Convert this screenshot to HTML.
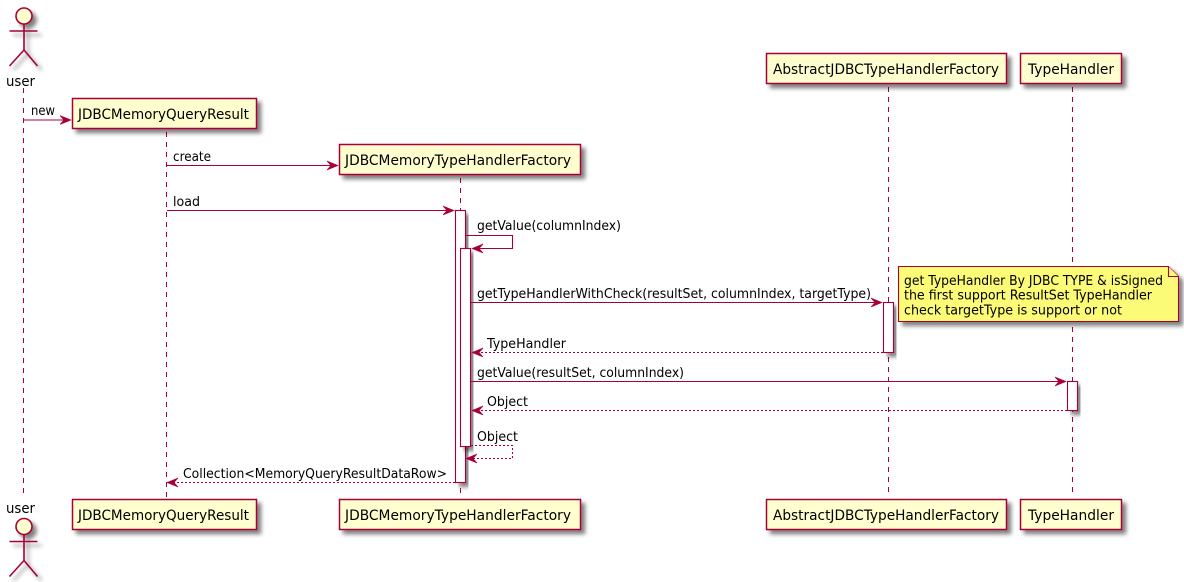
<!DOCTYPE html>
<html><head><meta charset="utf-8">
<style>
html,body{margin:0;padding:0;background:#fff}
svg{display:block}
text{font-family:"DejaVu Sans","Liberation Sans",sans-serif;fill:#000}
.m{font-size:13px}
.b{font-size:14.5px}
.n{font-size:13px}
.l{stroke:#A80036;stroke-width:1.1;fill:none}
.d{stroke-dasharray:2,2}
.ll{stroke:#A80036;stroke-width:1;stroke-dasharray:5,5;fill:none}
.box{fill:#FEFECE;stroke:#A80036;stroke-width:1.5}
.act{fill:#fff;stroke:#A80036;stroke-width:1.1}
.ah{fill:#A80036;stroke:#A80036;stroke-width:.6}
</style></head>
<body>
<svg width="1184" height="582" viewBox="0 0 1184 582" xmlns="http://www.w3.org/2000/svg">
<defs>
<filter id="s" x="-20%" y="-20%" width="150%" height="160%">
<feGaussianBlur in="SourceAlpha" stdDeviation="2" result="b"/>
<feOffset in="b" dx="4" dy="4" result="o"/>
<feComponentTransfer in="o" result="o2"><feFuncA type="linear" slope="0.5"/></feComponentTransfer>
<feMerge><feMergeNode in="o2"/><feMergeNode in="SourceGraphic"/></feMerge>
</filter>
<g id="actor">
<circle cx="24" cy="16" r="8" fill="#FEFECE" stroke="#A80036" stroke-width="1.6"/>
<path d="M24 24V50M9.5 31H37.500M24 50L9.500 66M24 50L37.500 66" fill="none" stroke="#A80036" stroke-width="1.6"/>
</g>
</defs>

<!-- lifelines -->
<path class="ll" d="M23.500 88V495"/>
<path class="ll" d="M166.500 132V497"/>
<path class="ll" d="M460.500 178V497"/>
<path class="ll" d="M888.500 87V497"/>
<path class="ll" d="M1072.500 87V497"/>

<!-- actors -->
<use href="#actor" filter="url(#s)"/>
<text class="b" x="6" y="86" textLength="29" lengthAdjust="spacingAndGlyphs">user</text>
<text class="b" x="6" y="513" textLength="29" lengthAdjust="spacingAndGlyphs">user</text>
<use href="#actor" y="510.500" filter="url(#s)"/>

<!-- top boxes -->
<g filter="url(#s)"><rect class="box" x="72.500" y="98.500" width="184" height="30"/></g>
<text class="b" x="78" y="119" textLength="171" lengthAdjust="spacingAndGlyphs">JDBCMemoryQueryResult</text>
<g filter="url(#s)"><rect class="box" x="339.500" y="144.500" width="241" height="30"/></g>
<text class="b" x="345" y="165" textLength="226" lengthAdjust="spacingAndGlyphs">JDBCMemoryTypeHandlerFactory</text>
<g filter="url(#s)"><rect class="box" x="766.500" y="53.500" width="240" height="30"/></g>
<text class="b" x="773" y="74" textLength="226" lengthAdjust="spacingAndGlyphs">AbstractJDBCTypeHandlerFactory</text>
<g filter="url(#s)"><rect class="box" x="1020.500" y="53.500" width="101" height="30"/></g>
<text class="b" x="1028" y="74" textLength="86" lengthAdjust="spacingAndGlyphs">TypeHandler</text>

<!-- bottom boxes -->
<g filter="url(#s)"><rect class="box" x="72.500" y="499.500" width="184" height="30"/></g>
<text class="b" x="78" y="520" textLength="171" lengthAdjust="spacingAndGlyphs">JDBCMemoryQueryResult</text>
<g filter="url(#s)"><rect class="box" x="339.500" y="499.500" width="241" height="30"/></g>
<text class="b" x="345" y="520" textLength="226" lengthAdjust="spacingAndGlyphs">JDBCMemoryTypeHandlerFactory</text>
<g filter="url(#s)"><rect class="box" x="766.500" y="499.500" width="240" height="30"/></g>
<text class="b" x="773" y="520" textLength="226" lengthAdjust="spacingAndGlyphs">AbstractJDBCTypeHandlerFactory</text>
<g filter="url(#s)"><rect class="box" x="1020.500" y="499.500" width="101" height="30"/></g>
<text class="b" x="1028" y="520" textLength="86" lengthAdjust="spacingAndGlyphs">TypeHandler</text>

<!-- activations -->
<g filter="url(#s)"><rect class="act" x="455.500" y="210.500" width="10" height="272"/></g>
<g filter="url(#s)"><rect class="act" x="460.500" y="248.500" width="10" height="198"/></g>
<g filter="url(#s)"><rect class="act" x="883.500" y="302.500" width="10" height="50"/></g>
<g filter="url(#s)"><rect class="act" x="1067.500" y="381.500" width="10" height="29"/></g>

<!-- note -->
<g filter="url(#s)">
<path d="M898.500 266.500H1168.500L1178.500 276.500V321.500H898.500Z" fill="#FBFB77" stroke="#A80036" stroke-width="1.1"/>
<path d="M1168.500 266.500V276.500H1178.500" fill="#FBFB77" stroke="#A80036" stroke-width="1.1"/>
</g>
<text class="n" x="904" y="285" textLength="259" lengthAdjust="spacingAndGlyphs">get TypeHandler By JDBC TYPE &amp; isSigned</text>
<text class="n" x="904" y="299.500" textLength="248" lengthAdjust="spacingAndGlyphs">the first support ResultSet TypeHandler</text>
<text class="n" x="904" y="314.500" textLength="218" lengthAdjust="spacingAndGlyphs">check targetType is support or not</text>

<!-- messages -->
<path class="l" d="M24 120H70"/>
<path class="ah" d="M60 115.500L71 120L60 124.500L64 120Z"/>
<text class="m" x="31" y="115" textLength="24" lengthAdjust="spacingAndGlyphs">new</text>

<path class="l" d="M167 165.500H337"/>
<path class="ah" d="M327 161L338 165.500L327 170L331 165.500Z"/>
<text class="m" x="173" y="161" textLength="38" lengthAdjust="spacingAndGlyphs">create</text>

<path class="l" d="M167 210.500H453"/>
<path class="ah" d="M443 206L454 210.500L443 215L447 210.500Z"/>
<text class="m" x="173" y="206" textLength="27" lengthAdjust="spacingAndGlyphs">load</text>

<path class="l" d="M466 235.500H512.500V248.500H473"/>
<path class="ah" d="M483 244L472 248.500L483 253L479 248.500Z"/>
<text class="m" x="477" y="230" textLength="144" lengthAdjust="spacingAndGlyphs">getValue(columnIndex)</text>

<path class="l" d="M471 302.500H881"/>
<path class="ah" d="M871 298L882 302.500L871 307L875 302.500Z"/>
<text class="m" x="477" y="298" textLength="394" lengthAdjust="spacingAndGlyphs">getTypeHandlerWithCheck(resultSet, columnIndex, targetType)</text>

<path class="l d" d="M883 352.500H473"/>
<path class="ah" d="M483 348L472 352.500L483 357L479 352.500Z"/>
<text class="m" x="487" y="348" textLength="79" lengthAdjust="spacingAndGlyphs">TypeHandler</text>

<path class="l" d="M471 381.500H1065"/>
<path class="ah" d="M1055 377L1066 381.500L1055 386L1059 381.500Z"/>
<text class="m" x="477" y="377" textLength="207" lengthAdjust="spacingAndGlyphs">getValue(resultSet, columnIndex)</text>

<path class="l d" d="M1067 410.500H473"/>
<path class="ah" d="M483 406L472 410.500L483 415L479 410.500Z"/>
<text class="m" x="487" y="406" textLength="41" lengthAdjust="spacingAndGlyphs">Object</text>

<path class="l d" d="M471 445.500H512.500V458.500H468"/>
<path class="ah" d="M477 454L466 458.500L477 463L473 458.500Z"/>
<text class="m" x="477" y="441" textLength="41" lengthAdjust="spacingAndGlyphs">Object</text>

<path class="l d" d="M455 482.500H168"/>
<path class="ah" d="M178 478L167 482.500L178 487L174 482.500Z"/>
<text class="m" x="183" y="478" textLength="264" lengthAdjust="spacingAndGlyphs">Collection&lt;MemoryQueryResultDataRow&gt;</text>
</svg>
</body></html>
